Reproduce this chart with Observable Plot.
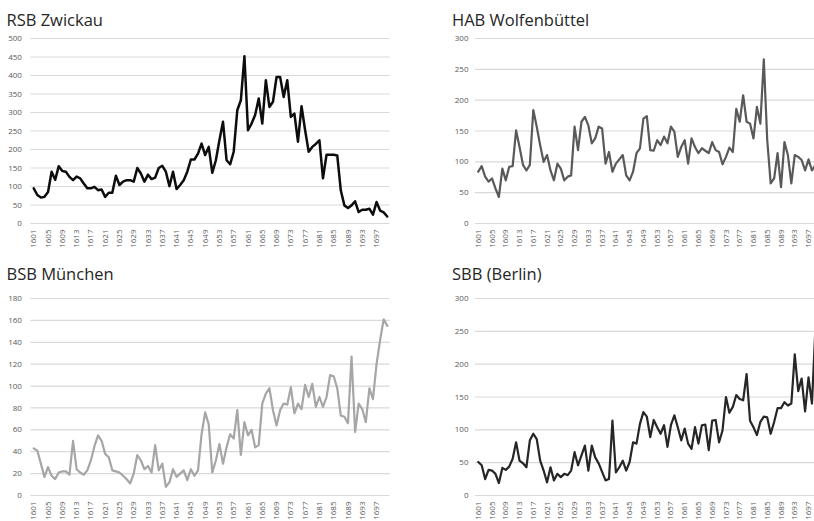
<!DOCTYPE html>
<html><head><meta charset="utf-8">
<script src="https://cdn.jsdelivr.net/npm/d3@7"></script>
<script src="https://cdn.jsdelivr.net/npm/@observablehq/plot@0.6"></script>
<style>
html,body{margin:0;padding:0;background:#fff;}
html{overflow:hidden;}
body{width:814px;height:521px;overflow:hidden;position:relative;}
.panel{position:absolute;overflow:visible;}
.panel svg{max-width:none !important;}
.title{position:absolute;font-family:"Open Sans",sans-serif;font-size:16.5px;color:#262626;line-height:20px;white-space:nowrap;}
</style></head><body>
<script>
const years = d3.range(1601, 1701);
const yearTicks = [1601,1605,1609,1613,1617,1621,1625,1629,1633,1637,1641,1645,1649,1653,1657,1661,1665,1669,1673,1677,1681,1685,1689,1693,1697];

const titles = ["RSB Zwickau", "HAB Wolfenbüttel", "BSB München", "SBB (Berlin)"];

const zwickau = [
  95, 77, 70, 72, 85, 140, 118, 155, 142, 140,
  126, 117, 127, 122, 108, 95, 95, 99, 90, 92,
  72, 83, 83, 129, 104, 113, 117, 117, 113, 150,
  135, 113, 132, 120, 124, 150, 156, 140, 101, 140,
  93, 104, 117, 140, 173, 173, 189, 216, 185, 207,
  137, 171, 225, 275, 171, 160, 194, 306, 333, 452,
  252, 270, 293, 338, 270, 387, 315, 329, 396, 396,
  342, 387, 288, 297, 221, 317, 252, 194, 207, 215,
  225, 122, 186, 186, 186, 184, 89, 49, 42, 49,
  60, 31, 37, 37, 40, 24, 58, 35, 30, 19
];
const wolfenbuettel = [
  84, 93, 76, 68, 73, 57, 43, 89, 70, 92,
  93, 151, 124, 95, 86, 95, 184, 157, 127, 100,
  111, 86, 70, 97, 89, 70, 76, 78, 157, 119,
  165, 173, 159, 130, 138, 157, 154, 97, 116, 84,
  97, 104, 111, 78, 70, 84, 114, 122, 170, 174,
  119, 118, 135, 127, 141, 130, 157, 149, 108, 124,
  135, 97, 138, 124, 114, 122, 118, 114, 132, 119,
  116, 96, 108, 123, 116, 186, 165, 208, 165, 162,
  138, 189, 162, 266, 135, 65, 73, 114, 59, 132,
  111, 65, 111, 108, 103, 86, 104, 86, 95, 90
];
const muenchen = [
  43, 41, 29, 17, 26, 18, 15, 21, 22, 22,
  19, 50, 24, 21, 19, 23, 32, 45, 55, 50,
  38, 35, 23, 22, 21, 18, 15, 11, 20, 37,
  32, 24, 27, 21, 46, 23, 29, 8, 12, 24,
  17, 20, 23, 14, 24, 18, 23, 56, 76, 65,
  21, 32, 47, 29, 44, 56, 52, 78, 37, 67,
  55, 60, 44, 46, 84, 93, 98, 78, 64, 78,
  84, 83, 99, 75, 84, 79, 101, 90, 102, 81,
  90, 81, 90, 110, 109, 98, 73, 72, 66, 127,
  58, 84, 79, 67, 98, 88, 120, 142, 161, 155
];
const berlin = [
  51, 46, 25, 39, 38, 33, 19, 42, 39, 44,
  56, 81, 53, 49, 43, 84, 94, 86, 53, 38,
  20, 43, 23, 33, 28, 33, 31, 38, 66, 46,
  61, 76, 38, 76, 58, 49, 36, 23, 25, 114,
  35, 43, 53, 38, 51, 81, 79, 109, 127, 120,
  89, 115, 104, 94, 107, 74, 107, 122, 104, 84,
  102, 79, 71, 104, 79, 107, 108, 69, 114, 115,
  81, 99, 150, 126, 135, 153, 147, 145, 185, 114,
  104, 92, 112, 120, 119, 94, 112, 133, 133, 142,
  137, 140, 215, 159, 178, 128, 180, 140, 255, 230
];

const ticksZwickau = [0,50,100,150,200,250,300,350,400,450,500];
const ticks300 = [0,50,100,150,200,250,300];
const ticksMuenchen = [0,20,40,60,80,100,120,140,160,180];

function panel(o) {
  const data = years.map((y, i) => ({year: y, value: o.values[i]}));
  const wrap = document.createElement("div");
  wrap.className = "panel";
  wrap.style.left = o.left + "px";
  wrap.style.top = o.top + "px";
  wrap.style.width = o.width + "px";
  wrap.style.height = o.height + "px";
  const chart = Plot.plot({
    width: o.width,
    height: o.height,
    marginTop: o.mt,
    marginBottom: o.mb,
    marginLeft: o.ml,
    marginRight: o.mr,
    x: {domain: [1600.2, 1700.8]},
    y: {domain: [0, o.yMax]},
    style: {fontFamily: "Open Sans, sans-serif", fontSize: "8px", color: "#595959", background: "transparent", overflow: "visible", maxWidth: "none"},
    marks: [
      Plot.ruleY(o.yTicks, {stroke: "#d9d9d9", strokeWidth: 1.2}),
      Plot.axisY(o.yTicks, {tickSize: 0, tickPadding: o.tp, label: null, tickFormat: d => String(d), fill: "#595959"}),
      Plot.axisX(yearTicks, {tickSize: 0, tickPadding: 6, tickRotate: -90, label: null, tickFormat: d => String(d), fill: "#595959"}),
      Plot.line(data, {x: "year", y: "value", stroke: o.color, strokeWidth: o.sw, strokeLinejoin: "round"})
    ]
  });
  chart.style.maxWidth = "none";
  chart.style.width = o.width + "px";
  chart.style.height = o.height + "px";
  wrap.appendChild(chart);
  document.body.appendChild(wrap);
  const t = document.createElement("div");
  t.className = "title";
  t.textContent = o.title;
  t.style.left = o.titleLeft + "px";
  t.style.top = o.titleTop + "px";
  document.body.appendChild(t);
}

panel({title: titles[0], values: zwickau, yTicks: ticksZwickau, yMax: 500, color: "#0d0d0d", sw: 2.5,
  left: 0, top: 0, width: 410, height: 258, mt: 38, mb: 35, ml: 30.4, mr: 20.4, tp: 9, titleLeft: 6.5, titleTop: 10});
panel({title: titles[1], values: wolfenbuettel, yTicks: ticks300, yMax: 300, color: "#595959", sw: 2.2,
  left: 415, top: 0, width: 420, height: 258, mt: 38, mb: 35, ml: 60, mr: 13.9, tp: 7, titleLeft: 452, titleTop: 10});
panel({title: titles[2], values: muenchen, yTicks: ticksMuenchen, yMax: 180, color: "#a6a6a6", sw: 2.2,
  left: 0, top: 260, width: 410, height: 261, mt: 38, mb: 26, ml: 30.4, mr: 20.4, tp: 9, titleLeft: 6.5, titleTop: 264});
panel({title: titles[3], values: berlin, yTicks: ticks300, yMax: 300, color: "#262626", sw: 2.2,
  left: 415, top: 260, width: 420, height: 261, mt: 38, mb: 26, ml: 60, mr: 13.9, tp: 7, titleLeft: 452, titleTop: 264});
</script>
</body></html>
